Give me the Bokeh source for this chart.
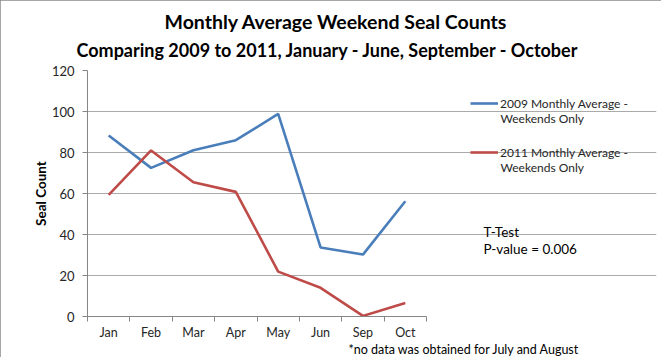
from bokeh.plotting import figure
from bokeh.models import (Range1d, FixedTicker, Label, Legend, LegendItem, Title)
from bokeh.embed import file_html
from bokeh.resources import INLINE

months = ["Jan", "Feb", "Mar", "Apr", "May", "Jun", "Sep", "Oct"]
avg_2009 = [88.3, 72.5, 81.1, 86.0, 98.8, 33.7, 30.2, 56.2]
avg_2011 = [59.3, 81.0, 65.5, 60.8, 21.9, 14.0, 0.3, 6.6]
y_ticks = [0, 20, 40, 60, 80, 100, 120]

FONT = "Lato"
W, H = 661, 357
LEFT, TOP, BOTTOM, RIGHT = 87, 70, 316, 5
DATA_W = 339  # pixel width of the category area
n = len(months)
xs = [i + 0.5 for i in range(n)]
x_end = n * (W - LEFT - RIGHT) / DATA_W

p = figure(width=W, height=H, output_backend="svg", toolbar_location=None,
           x_range=Range1d(0, x_end), y_range=Range1d(0, 120),
           min_border_left=LEFT, min_border_right=RIGHT, min_border_top=TOP,
           min_border_bottom=H - BOTTOM)
p.outline_line_color = None
p.background_fill_color = "white"
p.border_fill_color = "white"
p.styles = {"outline": "2px solid #8a8a8a", "outline-offset": "-2px"}

r1 = p.line(xs, avg_2009, line_color="#4a7ebb", line_width=2.6)
r2 = p.line(xs, avg_2011, line_color="#be4b48", line_width=2.6)

xa = p.xaxis[0]
xa.bounds = (0, n)
xa.ticker = FixedTicker(ticks=xs, minor_ticks=list(range(n + 1)))
xa.major_label_overrides = {x: m for x, m in zip(xs, months)}
xa.major_tick_line_color = None
xa.minor_tick_line_color = "#868686"
xa.minor_tick_in = 0
xa.minor_tick_out = 5
xa.axis_line_color = "#868686"
xa.major_label_text_font = FONT
xa.major_label_text_font_size = "12.5px"
xa.major_label_text_color = "#262626"
xa.major_label_standoff = 2

ya = p.yaxis[0]
ya.ticker = FixedTicker(ticks=y_ticks)
ya.minor_tick_line_color = None
ya.major_tick_line_color = "#868686"
ya.major_tick_in = 0
ya.major_tick_out = 5
ya.axis_line_color = "#868686"
ya.major_label_text_font = FONT
ya.major_label_text_font_size = "13px"
ya.major_label_text_color = "#262626"
ya.major_label_standoff = 8
ya.axis_label = "Seal Count"
ya.axis_label_text_font = FONT
ya.axis_label_text_font_style = "bold"
ya.axis_label_text_font_size = "13.5px"
ya.axis_label_text_color = "black"
ya.axis_label_standoff = 0

p.xgrid.grid_line_color = None
p.ygrid.grid_line_color = "#aaaaaa"
p.ygrid.grid_line_width = 1
p.ygrid.bounds = (0, n)

# titles (subtitle first: it sits closest to the plot)
p.add_layout(Title(text="Comparing 2009 to 2011, January - June, September - October",
                   align="left", offset=76 - LEFT, text_font=FONT,
                   text_font_style="bold", text_font_size="18px",
                   text_line_height=0.7, text_color="black", standoff=20), "above")
p.add_layout(Title(text="Monthly Average Weekend Seal Counts",
                   align="left", offset=164 - LEFT, text_font=FONT,
                   text_font_style="bold", text_font_size="19.5px",
                   text_line_height=0.7, text_color="black", standoff=-12), "above")
p.add_layout(Title(text="*no data was obtained for July and August",
                   align="left", offset=348 - LEFT, text_font=FONT,
                   text_font_style="normal", text_font_size="12.5px",
                   text_line_height=0.8, text_color="black", standoff=-6), "below")


def sx(px):
    return px - LEFT


def sy(py):
    return BOTTOM - py


def lab(text, px, py, size="12px", color="#262626"):
    p.add_layout(Label(x=sx(px), y=sy(py), x_units="screen", y_units="screen",
                       text=text, text_align="left", text_baseline="middle",
                       text_font=FONT, text_font_size=size, text_color=color))


legend = Legend(items=[
    LegendItem(label="2009 Monthly Average -", renderers=[r1]),
    LegendItem(label="2011 Monthly Average -", renderers=[r2]),
], location=(sx(470), sy(160)))
legend.border_line_color = None
legend.background_fill_alpha = 0
legend.label_text_font = FONT
legend.label_text_font_size = "12px"
legend.label_text_color = "#262626"
legend.glyph_width = 28
legend.glyph_height = 16
legend.label_height = 16
legend.spacing = 33
legend.label_standoff = 2
legend.padding = 0
legend.margin = 0
p.add_layout(legend, "center")

lab("Weekends Only", 500, 118)
lab("Weekends Only", 500, 167)
lab("T-Test", 483, 231, "13.5px", "black")
lab("P-value = 0.006", 483, 248, "13.5px", "black")

open("out.html", "w").write(file_html(p, INLINE))
